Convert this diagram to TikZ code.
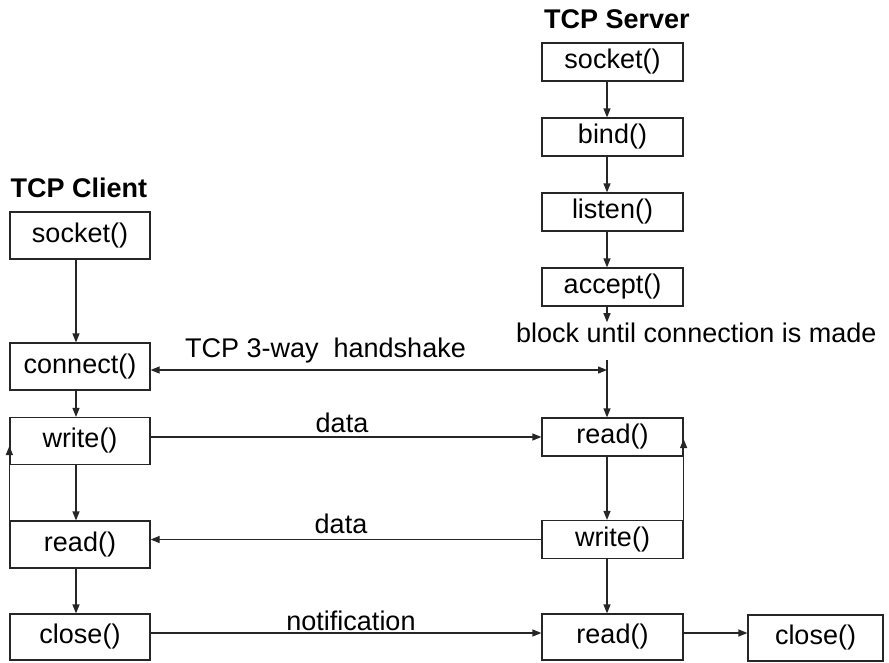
\documentclass[tikz,border=0pt]{standalone}
\usepackage{fontspec}
\setmainfont{Liberation Sans}
\usetikzlibrary{arrows.meta}
\begin{document}
\begin{tikzpicture}[x=1pt,y=1pt,
  lbl/.style={inner sep=0pt, font=\fontsize{27}{32}\selectfont},
  title/.style={lbl, font=\fontsize{27}{32}\selectfont\bfseries},
  fbox/.style={draw=black!85, line width=1.2pt, inner sep=0pt,
    font=\fontsize{27}{32}\selectfont},
  cbox/.style={fbox, minimum width=140pt, minimum height=47pt},
  sbox/.style={fbox, minimum width=141pt, minimum height=38pt},
  bbox/.style={fbox, minimum height=46pt},
  flow/.style={draw=black!85, line width=1.2pt,
    -{Triangle[length=9pt,width=7pt]}},
  both/.style={flow, {Triangle[length=9pt,width=7pt]}-{Triangle[length=9pt,width=7pt]}},
  plain/.style={draw=black!85, line width=1.2pt}]
\useasboundingbox (0,0) rectangle (889,-662);

% column guides for the vertical connectors
\coordinate (ccol) at (76,0);
\coordinate (drop) at (607,-360);
\coordinate (meet) at (607,-370);

% titles
\node[title, anchor=base] (tserver) at (617,-28) {TCP Server};
\node[title, anchor=base] (tclient) at (79,-197) {TCP Client};

% server calls
\node[sbox] (ssock)  at (612.5,-62)   {socket()};
\node[sbox] (sbind)  at (612.5,-137)  {bind()};
\node[sbox] (slist)  at (612.5,-212)  {listen()};
\node[sbox] (sacc)   at (612.5,-287)  {accept()};
\node[sbox] (sread)  at (612.5,-437)  {read()};
\node[sbox] (swrite) at (612.5,-539.5){write()};
\node[bbox, minimum width=141pt] (sread2) at (612.5,-637) {read()};
\node[bbox, minimum width=135pt] (sclose) at (815.5,-638) {close()};

% client calls
\node[cbox] (csock)  at (80,-235.5) {socket()};
\node[cbox] (cconn)  at (80,-366.5) {connect()};
\node[cbox] (cwrite) at (80,-441)   {write()};
\node[cbox] (cread)  at (80,-544.5) {read()};
\node[bbox, minimum width=140pt] (cclose) at (80,-637) {close()};

% labels
\node[lbl, anchor=base west] (blk) at (516,-342) {block until connection is made};
\node[lbl, anchor=base west] (hs) at (185,-357) {TCP 3-way\ \ handshake};
\node[lbl, anchor=base] (d1) at (342,-432) {data};
\node[lbl, anchor=base] (d2) at (341,-533) {data};
\node[lbl, anchor=base] (nt) at (351,-630) {notification};

% server sequence
\draw[flow] (ssock.south -| drop) -- (sbind.north -| drop);
\draw[flow] (sbind.south -| drop) -- (slist.north -| drop);
\draw[flow] (slist.south -| drop) -- (sacc.north -| drop);
\draw[flow] (sacc.south -| drop) -- (blk.north -| drop);
\draw[flow] (drop) -- (sread.north -| drop);
\draw[flow] (sread.south -| drop) -- (swrite.north -| drop);
\draw[flow] (swrite.south -| drop) -- (sread2.north -| drop);
\draw[flow] ([yshift=4pt]sread2.east) -- ([yshift=4pt]sread2.east -| sclose.west);
\draw[flow] (swrite.north east) -- ([yshift=-2pt]sread.east);

% client sequence
\draw[flow] (csock.south -| ccol) -- (cconn.north -| ccol);
\draw[flow] (cconn.south -| ccol) -- (cwrite.north -| ccol);
\draw[flow] (cwrite.south -| ccol) -- (cread.north -| ccol);
\draw[flow] (cread.south -| ccol) -- (cclose.north -| ccol);
\draw[flow] (cread.north west) -- ([yshift=-5pt]cwrite.west);

% exchanges between the two sides
\draw[both] (cconn.east |- meet) -- (meet);
\draw[flow] (cwrite.east |- sread.west) -- (sread.west);
\draw[flow] (swrite.west) -- (swrite.west -| cread.east);
\draw[flow] ([yshift=4pt]cclose.east) -- ([yshift=4pt]cclose.east -| sread2.west);
\end{tikzpicture}
\end{document}
